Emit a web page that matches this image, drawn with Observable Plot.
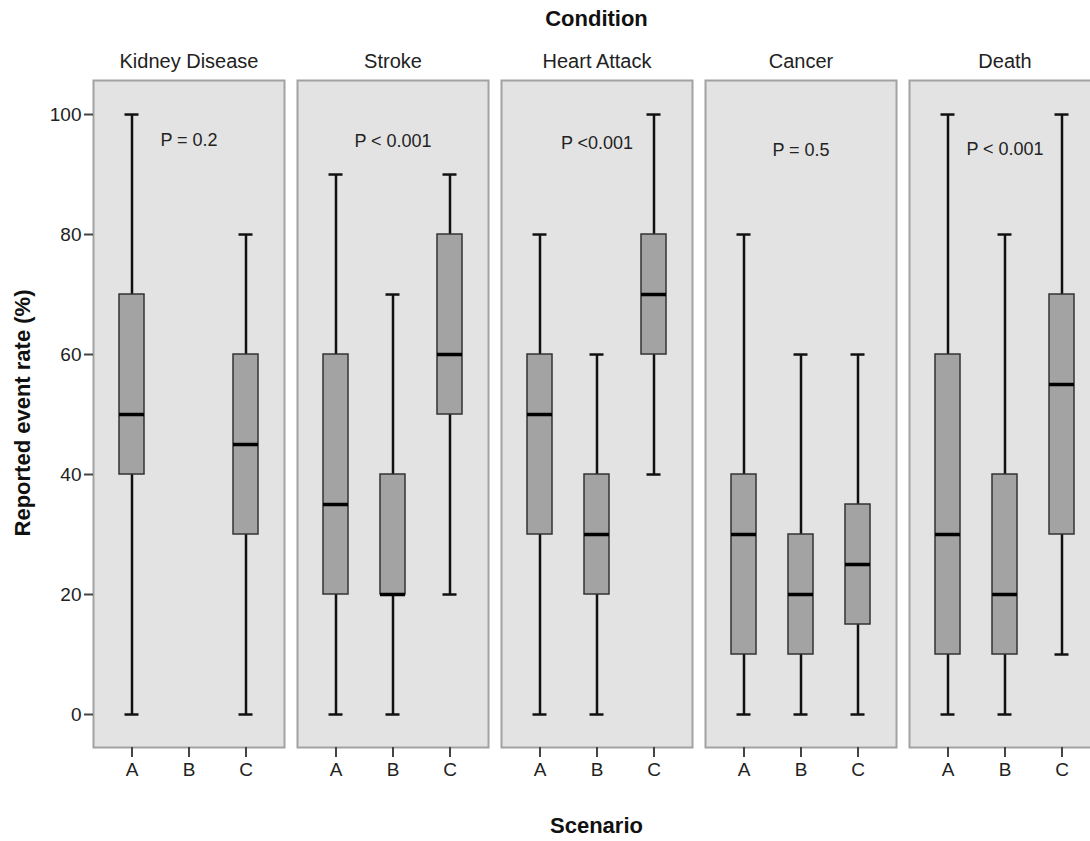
<!DOCTYPE html>
<html><head><meta charset="utf-8">
<script src="https://cdn.jsdelivr.net/npm/d3@7"></script>
<script src="https://cdn.jsdelivr.net/npm/@observablehq/plot@0.6"></script>
<style>html,body{margin:0;padding:0;background:#fff;overflow:hidden;width:1090px;height:841px}</style>
</head><body><div id="chart"></div>
<script>
const conditions = ["Kidney Disease", "Stroke", "Heart Attack", "Cancer", "Death"];
const scenarios = ["A", "B", "C"];
const yTicks = [0, 20, 40, 60, 80, 100];

// one entry per box (Kidney Disease has no scenario B box)
const boxCondition = ["Kidney Disease","Kidney Disease","Stroke","Stroke","Stroke","Heart Attack","Heart Attack","Heart Attack","Cancer","Cancer","Cancer","Death","Death","Death"];
const boxScenario  = ["A","C","A","B","C","A","B","C","A","B","C","A","B","C"];
const whiskerLow   = [0, 0, 0, 0, 20, 0, 0, 40, 0, 0, 0, 0, 0, 10];
const quartile1    = [40, 30, 20, 20, 50, 30, 20, 60, 10, 10, 15, 10, 10, 30];
const medianValue  = [50, 45, 35, 20, 60, 50, 30, 70, 30, 20, 25, 30, 20, 55];
const quartile3    = [70, 60, 60, 40, 80, 60, 40, 80, 40, 30, 35, 60, 40, 70];
const whiskerHigh  = [100, 80, 90, 70, 90, 80, 60, 100, 80, 60, 60, 100, 80, 100];

const pCondition = ["Kidney Disease", "Stroke", "Heart Attack", "Cancer", "Death"];
const pText = ["P = 0.2", "P < 0.001", "P <0.001", "P = 0.5", "P < 0.001"];
const pY = [95.7, 95.5, 95.2, 94, 94.2];

const boxes = boxCondition.map((c, i) => ({
  condition: c, scenario: boxScenario[i], low: whiskerLow[i], q1: quartile1[i],
  median: medianValue[i], q3: quartile3[i], high: whiskerHigh[i]
}));
const notes = pCondition.map((c, i) => ({condition: c, scenario: "B", text: pText[i], y: pY[i]}));

const font = "'Liberation Sans', Arial, sans-serif";
const plot = Plot.plot({
  width: 1100, height: 841,
  marginTop: 80, marginBottom: 94, marginLeft: 93, marginRight: 0,
  style: {fontFamily: font, background: "white", color: "#222"},
  fx: {domain: conditions, paddingInner: 0.064, paddingOuter: 0, label: null},
  x: {domain: scenarios, paddingInner: 0.56, paddingOuter: 0.455, label: null},
  y: {domain: [-5.5, 105.67], label: null},
  marks: [
    Plot.frame({fill: "#e3e3e3", stroke: "#a2a2a2", strokeWidth: 2}),
    Plot.axisFx({anchor: "top", tickSize: 0, tickPadding: 13, fontSize: 20, label: null}),
    Plot.axisX({anchor: "bottom", tickSize: 10, tickPadding: 5, fontSize: 19, label: null, strokeWidth: 2, stroke: "#444"}),
    Plot.axisY({anchor: "left", ticks: yTicks, tickSize: 9, tickPadding: 3, fontSize: 19, label: null, strokeWidth: 2, stroke: "#444"}),
    Plot.ruleX(boxes, {fx: "condition", x: "scenario", y1: "low", y2: "high", stroke: "#111", strokeWidth: 2.5}),
    Plot.tickY(boxes, {fx: "condition", x: "scenario", y: "low", insetLeft: 5.5, insetRight: 5.5, stroke: "#111", strokeWidth: 2.5}),
    Plot.tickY(boxes, {fx: "condition", x: "scenario", y: "high", insetLeft: 5.5, insetRight: 5.5, stroke: "#111", strokeWidth: 2.5}),
    Plot.barY(boxes, {fx: "condition", x: "scenario", y1: "q1", y2: "q3", fill: "#a3a3a3", stroke: "#333", strokeWidth: 1.5}),
    Plot.tickY(boxes, {fx: "condition", x: "scenario", y: "median", stroke: "#000", strokeWidth: 3.5}),
    Plot.text(notes, {fx: "condition", x: "scenario", y: "y", text: "text", fontSize: 18, fill: "#222"})
  ]
});
plot.style.maxWidth = "none";
plot.style.height = "841px";
plot.style.width = "1100px";
document.getElementById("chart").appendChild(plot);

const svg = d3.select(plot);
svg.append("text").attr("x", 596.5).attr("y", 18).attr("text-anchor", "middle").attr("dominant-baseline", "central")
  .style("font", `bold 22px ${font}`).attr("fill", "#111").text("Condition");
svg.append("text").attr("x", 596.5).attr("y", 825).attr("text-anchor", "middle").attr("dominant-baseline", "central")
  .style("font", `bold 22px ${font}`).attr("fill", "#111").text("Scenario");
svg.append("text").attr("transform", "translate(22,413) rotate(-90)").attr("text-anchor", "middle").attr("dominant-baseline", "central")
  .style("font", `bold 22px ${font}`).attr("fill", "#111").text("Reported event rate (%)");
</script>
</body></html>
